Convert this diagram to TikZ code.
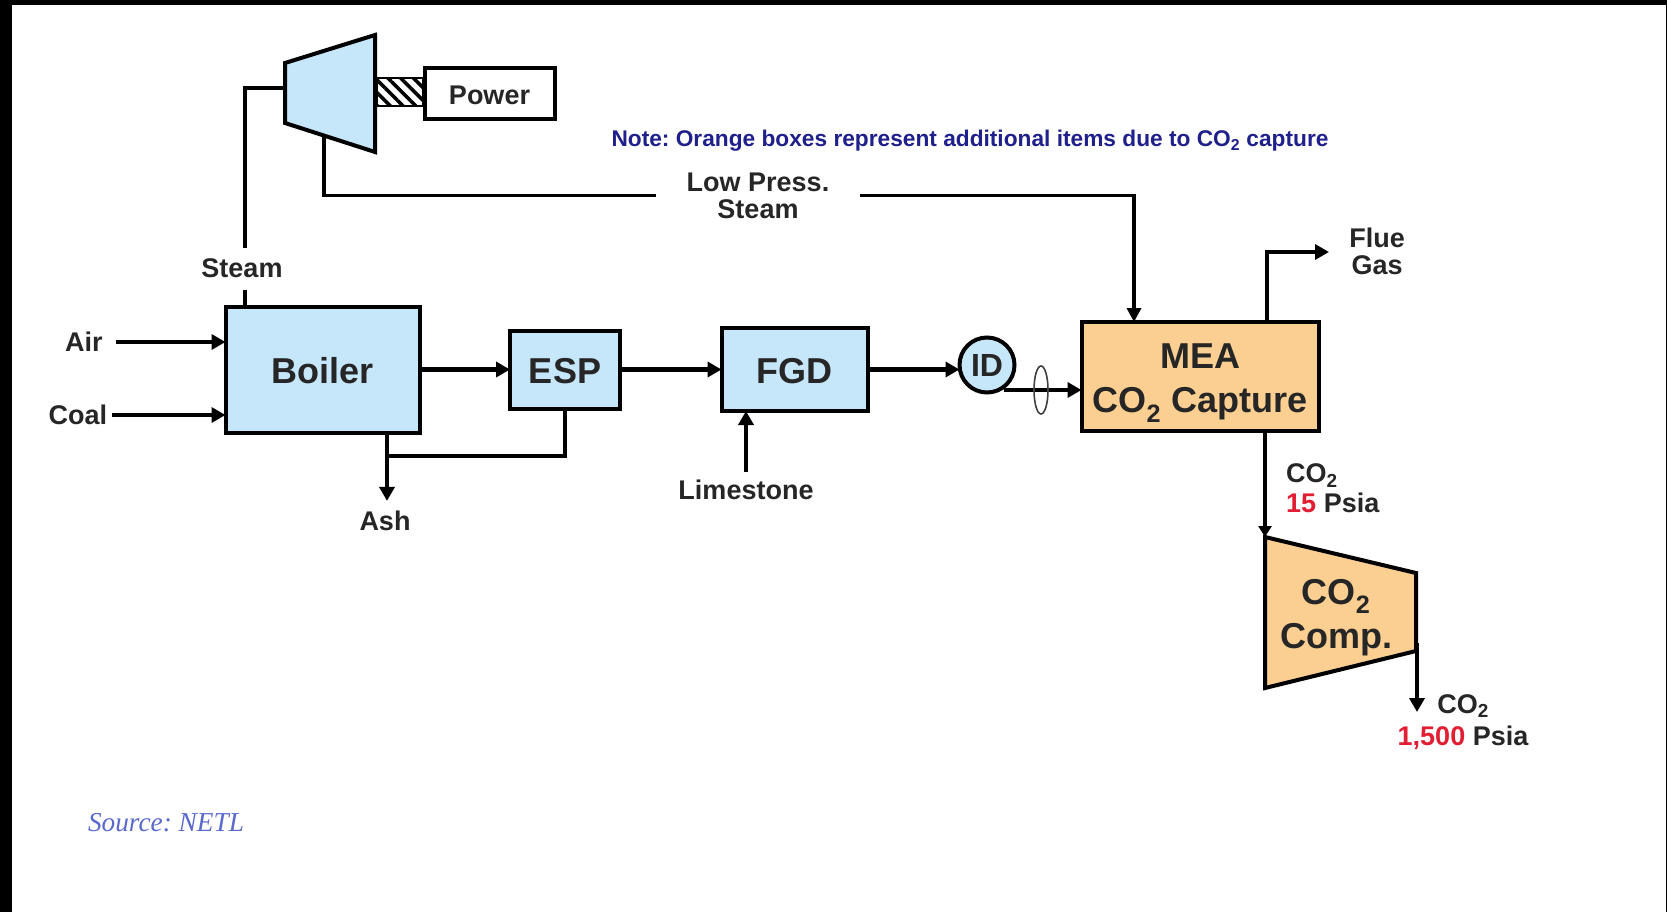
\documentclass[tikz,border=0pt]{standalone}
\usepackage{fontspec}
\setmainfont{Liberation Sans}
\newfontfamily\sourcefont{Liberation Serif}
\usepackage{xcolor}
\usetikzlibrary{positioning, arrows.meta, patterns.meta}
\definecolor{unitblue}{RGB}{198,231,250}
\definecolor{unitorange}{RGB}{250,207,145}
\definecolor{notenavy}{RGB}{32,32,140}
\definecolor{psiared}{RGB}{226,30,50}
\definecolor{sourceblue}{RGB}{90,105,205}

\begin{document}
\frenchspacing
\begin{tikzpicture}[
    x=1pt, y=-1pt,
    element/.style={rectangle, draw, line width=4pt, outer sep=0pt, inner sep=0pt, align=center, text=black!85, font=\fontsize{36}{44}\selectfont\bfseries},
    tag/.style={inner sep=0pt, align=center, font=\fontsize{27}{27}\selectfont\bfseries, text=black!85},
    arrow/.style={-{Triangle[length=14pt, width=15pt]}, line width=4.4pt},
    pipe/.style={line width=3.4pt}
]

\useasboundingbox (0,0) rectangle (1667,912);
\fill[black] (0,0) rectangle (1667,912);
\fill[white] (12,5.5) rectangle (1666,912);

\node[element, fill=unitblue, minimum width=194pt, minimum height=126pt] (boiler) at (322.5,369.5) {\rule{0pt}{29pt}Boiler};
\node[element, fill=unitblue, minimum width=110pt, minimum height=78pt] (esp) at (565,369.5) {\rule{0pt}{28pt}ESP};
\node[element, fill=unitblue, minimum width=146pt, minimum height=83pt] (fgd) at (794.5,369.5) {\rule{0pt}{28pt}FGD};
\node[element, circle, fill=unitblue, minimum size=55pt, font=\fontsize{32}{32}\selectfont\bfseries] (fan) at (987,365) {ID};
\node[element, fill=unitorange, minimum width=237pt, minimum height=109pt] (mea) at (1200,376.5) {\rule{0pt}{38pt}MEA\\CO\textsubscript{2} Capture};
\node[element, fill=white, minimum width=130pt, minimum height=51pt, font=\fontsize{27}{27}\selectfont\bfseries] (power) at (489.5,93.5) {\rule{0pt}{23pt}Power};
\node[draw, line width=2.5pt, inner sep=0pt, outer sep=0pt, minimum width=47pt, minimum height=28pt, pattern={Lines[angle=-45, distance=9pt, line width=3.5pt]}] (shaft) at (400,92) {};

\draw[line width=4pt, fill=unitblue, line join=miter] (285,63) -- (375,35) -- (375,152) -- (285,123) -- cycle;
\draw[line width=4pt, fill=unitorange, line join=miter] (1265,537) -- (1416,573) -- (1416,651) -- (1265,688) -- cycle;
\node[inner sep=0pt, align=center, text=black!85, font=\fontsize{36}{44}\selectfont\bfseries] (comp) at (1336,618) {CO\textsubscript{2}\\Comp.};

\coordinate (turbinein) at (284,88);
\coordinate (turbineout) at (324,135);
\coordinate (fanout) at (1004,390);
\coordinate (ashjoin) at (387,456);
\coordinate (compin) at (1265,537);
\coordinate (compout) at (1417,643);
\coordinate (flueout) at (1267,252);

\node[tag] (air) at (84,342) {Air};
\node[tag] (coal) at (78,415) {Coal};
\node[tag] (steam) at (242,268) {Steam};
\node[tag] (ash) at (385,521) {Ash};
\node[tag] (limestone) at (746,490) {Limestone};
\node[tag] (lowpress) at (758,195.5) {Low Press.\\Steam};
\node[tag] (flue) at (1377,251) {Flue\\Gas};
\node[tag, align=left, anchor=west] (co2low) at (1286,488.5) {CO\textsubscript{2}\\[3pt]{\color{psiared}15} Psia};
\node[tag] (co2high) at (1463,722) {CO\textsubscript{2}\\[5pt]{\color{psiared}1,500} Psia};
\node[inner sep=0pt, font=\fontsize{22.7}{23}\selectfont\bfseries, text=notenavy] (note) at (970,140.5) {Note: Orange boxes represent additional items due to CO\textsubscript{2} capture};
\node[inner sep=0pt, font=\fontsize{27.3}{27}\sourcefont\itshape, text=sourceblue] (source) at (166,823) {Source: NETL};

\draw[pipe] (turbinein) -- ++(-39,0) -- ([xshift=3pt, yshift=10pt]steam.north);
\draw[pipe] ([xshift=3pt]steam.south |- 0,290) -- ([xshift=3pt]steam.south |- boiler.north);
\draw[pipe] (turbineout) |- ([xshift=-31pt]lowpress.west);
\draw[pipe, -{Triangle[length=14pt, width=14pt]}] ([xshift=31pt]lowpress.east) -| ([xshift=-66pt]mea.north);

\draw[arrow, shorten <=13pt] (air.east) -- (air.east -| boiler.west);
\draw[arrow, shorten <=5pt] (coal.east) -- (coal.east -| boiler.west);
\draw[arrow] (boiler.east) -- (esp.west);
\draw[arrow] (esp.east) -- (esp.east -| fgd.west);
\draw[arrow] (fgd.east) -- (fgd.east -| fan.west);
\draw[arrow] (746,472) -- (746,472 |- fgd.south);
\draw[arrow] (fanout) -- (fanout -| mea.west);
\draw[line width=1.6pt, draw=black!75] (1041,390) ellipse [x radius=7, y radius=24];

\draw[arrow] (ashjoin |- boiler.south) -- ([yshift=10pt]ashjoin |- ash.north);
\draw[pipe] (esp.south) -- (esp.south |- ashjoin) -- (ashjoin);

\draw[arrow] (flueout |- mea.north) -- (flueout) -- (1329,252);
\draw[line width=4pt, -{Triangle[length=11pt, width=13pt]}] (compin |- mea.south) -- (compin);
\draw[arrow] (compout) -- ++(0,69);

\end{tikzpicture}
\end{document}
